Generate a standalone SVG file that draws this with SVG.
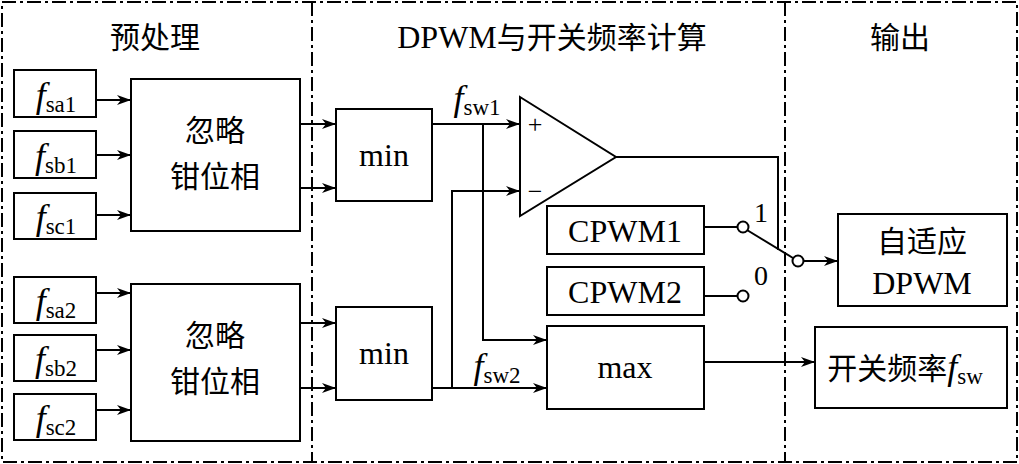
<svg xmlns="http://www.w3.org/2000/svg" width="1019" height="464" viewBox="0 0 1019 464">
<defs>
<marker id="ar" markerWidth="14" markerHeight="10" refX="14" refY="5" orient="auto" markerUnits="userSpaceOnUse"><path d="M0,0 L14,5 L0,10 L4,5 Z" fill="#000"/></marker>
<style>
rect{fill:#fff;stroke:#000;stroke-width:2}
.l{fill:none;stroke:#000;stroke-width:2}
.a{fill:none;stroke:#000;stroke-width:2;marker-end:url(#ar)}
.d{fill:none;stroke:#000;stroke-width:2;stroke-dasharray:14,4,3,4}
text{font-family:"Liberation Serif","Noto Sans CJK SC",serif;font-size:32px;fill:#000;text-anchor:middle}
.c{font-family:"Noto Sans CJK SC",sans-serif;font-size:30px}
.s{font-size:23px}
.i{font-style:italic;font-size:36px}
circle{fill:#fff;stroke:#000;stroke-width:2}
</style>
</defs>
<rect x="2" y="2" width="1015" height="460" class="d" style="fill:none"/>
<line class="d" x1="312" y1="2" x2="312" y2="462"/>
<line class="d" x1="785" y1="2" x2="785" y2="462"/>
<text class="c" x="155" y="48">预处理</text>
<text x="552" y="48">DPWM<tspan class="c">与开关频率计算</tspan></text>
<text class="c" x="900" y="48">输出</text>
<g id="connectors">
<path class="a" d="M96,100 H131"/><path class="a" d="M96,155 H131"/><path class="a" d="M96,215 H131"/>
<path class="a" d="M96,293 H131"/><path class="a" d="M96,350 H131"/><path class="a" d="M96,410 H131"/>
<path class="a" d="M300,124 H336"/><path class="a" d="M300,188 H336"/>
<path class="a" d="M300,323 H336"/><path class="a" d="M300,388 H336"/>
<path class="a" d="M432,124 H520"/>
<path class="a" d="M483,124 V340 H547"/>
<path class="a" d="M432,388 H547"/>
<path class="a" d="M452,388 V191 H520"/>
<path class="l" d="M616,157 H778 V250"/>
<path class="l" d="M704,227 H738"/><path class="l" d="M704,296 H738"/>
<path class="l" d="M747,230 L793,258"/>
<path class="a" d="M803,261 H838"/>
<path class="a" d="M704,362 H815"/>
</g>
<g id="in1"><rect x="14" y="70" width="82" height="47"/><text x="56" y="107"><tspan class="i">f</tspan><tspan class="s" dy="5">sa1</tspan></text></g>
<g id="in2"><rect x="14" y="131" width="82" height="47"/><text x="56" y="168"><tspan class="i">f</tspan><tspan class="s" dy="5">sb1</tspan></text></g>
<g id="in3"><rect x="14" y="193" width="82" height="46"/><text x="56" y="229"><tspan class="i">f</tspan><tspan class="s" dy="5">sc1</tspan></text></g>
<g id="in4"><rect x="14" y="277" width="82" height="46"/><text x="56" y="313"><tspan class="i">f</tspan><tspan class="s" dy="5">sa2</tspan></text></g>
<g id="in5"><rect x="14" y="335" width="82" height="46"/><text x="56" y="371"><tspan class="i">f</tspan><tspan class="s" dy="5">sb2</tspan></text></g>
<g id="in6"><rect x="14" y="394" width="82" height="46"/><text x="56" y="430"><tspan class="i">f</tspan><tspan class="s" dy="5">sc2</tspan></text></g>
<g id="ign1"><rect x="131" y="79" width="169" height="152"/><text class="c" x="215" y="141">忽略</text><text class="c" x="215" y="187">钳位相</text></g>
<g id="ign2"><rect x="131" y="284" width="169" height="157"/><text class="c" x="215" y="346">忽略</text><text class="c" x="215" y="392">钳位相</text></g>
<g id="min1"><rect x="336" y="109" width="96" height="92"/><text x="384" y="166">min</text></g>
<g id="min2"><rect x="336" y="307" width="96" height="93"/><text x="384" y="364">min</text></g>
<text x="477" y="110"><tspan class="i">f</tspan><tspan class="s" dy="5">sw1</tspan></text>
<text x="497" y="378"><tspan class="i">f</tspan><tspan class="s" dy="5">sw2</tspan></text>
<g id="comp"><path class="l" d="M520,97 L616,157 L520,216 Z"/><text x="535" y="133" style="font-size:26px">+</text><text x="535" y="200" style="font-size:26px">−</text></g>
<g id="cpwm1"><rect x="547" y="206" width="157" height="48"/><text x="625" y="242">CPWM1</text></g>
<g id="cpwm2"><rect x="547" y="267" width="157" height="48"/><text x="625" y="303">CPWM2</text></g>
<g id="max"><rect x="547" y="326" width="157" height="83"/><text x="625" y="378">max</text></g>
<g id="switch"><circle cx="743" cy="227" r="5.5"/><circle cx="743" cy="296" r="5.5"/><circle cx="798" cy="261" r="5.5"/><text x="761" y="222" style="font-size:28px">1</text><text x="761" y="285" style="font-size:28px">0</text></g>
<g id="dpwm"><rect x="838" y="214" width="169" height="92"/><text class="c" x="922" y="252">自适应</text><text x="922" y="294">DPWM</text></g>
<g id="fsw"><rect x="815" y="327" width="192" height="81"/><text x="905" y="379"><tspan class="c">开关频率</tspan><tspan class="i">f</tspan><tspan class="s" dy="5">sw</tspan></text></g>
</svg>
